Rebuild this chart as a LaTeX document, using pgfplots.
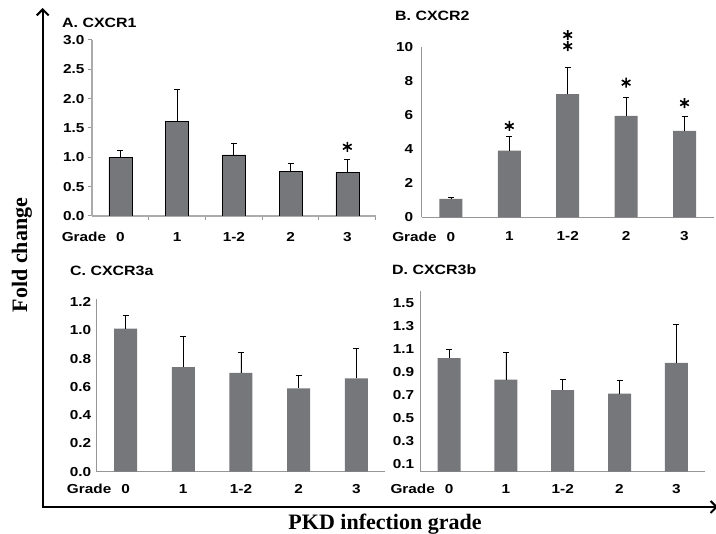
\documentclass[border=0pt]{standalone}
\usepackage{fontspec}
\setmainfont{Liberation Sans}[FakeStretch=1.18]
\newfontfamily\tnr{Liberation Serif}
\usepackage{pgfplots}
\pgfplotsset{compat=1.18}
\usetikzlibrary{arrows.meta}
\definecolor{barc}{RGB}{118,119,123}
\definecolor{axc}{RGB}{150,150,150}

\pgfplotsset{
 panel/.style={
  scale only axis, axis x line=bottom, axis y line=left,
  axis line style={-, draw=axc, line width=1.5pt},
  xmin=-0.5, xmax=4.5, xtick={0,...,4},
  xticklabels={\llap{Grade\hspace{10pt}}0,1,1-2,2,3},
  bar width=23pt,
  major tick length=0pt,
  tick style={draw=axc, line width=1pt},
  ticklabel style={font=\fontsize{13}{14}\selectfont\bfseries},
  /pgf/number format/assume math mode=true,
  yticklabel style={/pgf/number format/fixed, /pgf/number format/fixed zerofill, /pgf/number format/precision=1, xshift=-2pt},
  xticklabel style={yshift=-9pt},
 },
 bars/.style={ybar, fill=barc, draw=none,
  error bars/y dir=plus, error bars/y explicit,
  error bars/error bar style={black, line width=0.8pt},
  error bars/error mark options={rotate=90, mark size=3pt, black, line width=0.8pt}},
 stars/.style={only marks, mark=asterisk, mark size=5pt, black, line width=1.6pt},
}

\begin{document}
\begin{tikzpicture}
\useasboundingbox (0pt,0pt) rectangle (716pt,534pt);

% Panel A
\begin{axis}[panel, at={(92pt,318pt)}, anchor=south west,
  width=283.7pt, height=176pt, ymin=0, ymax=3, ytick={0,0.5,...,3},
  axis line style={-, draw=axc!80, line width=1.2pt},
  major tick length=4pt, tick align=outside,
  yticklabel style={xshift=2pt},
  xtick={0.5,1.5,2.5,3.5,4.5}, xticklabels={},
  extra x ticks={0,1,2,3,4},
  extra x tick labels={\llap{Grade\hspace{10pt}}0,1,1-2,2,3},
  extra x tick style={major tick length=0pt, xticklabel style={yshift=-4pt}}]
\addplot[bars, draw=black, line width=0.6pt] coordinates {
 (0,1.0) +- (0,0.11)
 (1,1.61) +- (0,0.55)
 (2,1.04) +- (0,0.20)
 (3,0.755) +- (0,0.145)
 (4,0.745) +- (0,0.215)};
\addplot[stars] coordinates {(4,1.18)};
\end{axis}

% Panel B
\begin{axis}[panel, at={(421.7pt,316.7pt)}, anchor=south west, clip=false,
  width=292pt, height=170pt, ymin=0, ymax=10, ytick={0,2,...,10},
  yticklabel style={/pgf/number format/precision=0, xshift=-3pt},
  xticklabel style={yshift=-2pt}]
\addplot[bars] coordinates {
 (0,1.08) +- (0,0.10)
 (1,3.92) +- (0,0.86)
 (2,7.24) +- (0,1.56)
 (3,5.96) +- (0,1.08)
 (4,5.08) +- (0,0.84)};
\addplot[stars] coordinates {(1,5.37) (2,10.07) (2,10.72) (3,7.92) (4,6.72)};
\end{axis}

% Panel C
\begin{axis}[panel, at={(96.7pt,62.3pt)}, anchor=south west,
  width=288.5pt, height=172.3pt, ymin=0, ymax=1.22, ytick={0,0.2,...,1.2}]
\addplot[bars] coordinates {
 (0,1.013) +- (0,0.097)
 (1,0.74) +- (0,0.216)
 (2,0.70) +- (0,0.145)
 (3,0.59) +- (0,0.09)
 (4,0.66) +- (0,0.214)};
\end{axis}

% Panel D
\begin{axis}[panel, at={(420.7pt,62.3pt)}, anchor=south west,
  width=284pt, height=181pt, ymin=0.035, ymax=1.61, ytick={0.1,0.3,...,1.5},
  yticklabel style={xshift=-1pt}]
\addplot[bars] coordinates {
 (0,1.023) +- (0,0.077)
 (1,0.837) +- (0,0.239)
 (2,0.745) +- (0,0.089)
 (3,0.715) +- (0,0.111)
 (4,0.982) +- (0,0.338)};
\end{axis}

% Titles
\begin{scope}[every node/.style={anchor=west, inner sep=0pt, font=\fontsize{13.5}{14}\selectfont\bfseries}]
\node at (62pt,511pt) {A. CXCR1};
\node at (395pt,518pt) {B. CXCR2};
\node at (70pt,263pt) {C. CXCR3a};
\node at (392pt,264pt) {D. CXCR3b};
\end{scope}

% Outer axes
\draw[line width=2pt, {Straight Barb[length=6pt,width=12pt]}-{Straight Barb[length=6pt,width=12pt]}]
  (42.7pt,526pt) -- (42.7pt,27pt) -- (718pt,27pt);
\node[rotate=90, font=\tnr\fontsize{22}{24}\selectfont\bfseries] at (22pt,279pt) {Fold change};
\node[font=\tnr\fontsize{22}{24}\selectfont\bfseries] at (385pt,10pt) {PKD infection grade};
\end{tikzpicture}
\end{document}
